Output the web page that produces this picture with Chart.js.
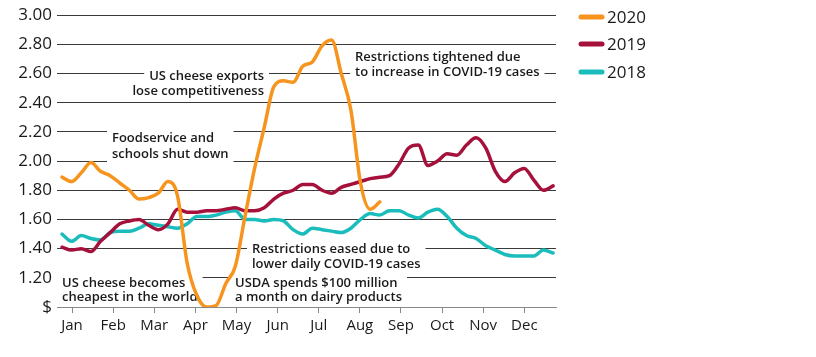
<!DOCTYPE html>
<html>
<head>
<meta charset="utf-8">
<script src="https://cdn.jsdelivr.net/npm/chart.js@4/dist/chart.umd.min.js"></script>
<style>
  html, body { margin: 0; padding: 0; background: #fff; }
  #wrap { width: 816px; height: 357px; position: relative; }
</style>
</head>
<body>
<div id="wrap"><canvas id="c" width="816" height="357"></canvas></div>
<script>
// ---- data (weekly cheese prices, $/lb) ----
const weeks = [1,2,3,4,5,6,7,8,9,10,11,12,13,14,15,16,17,18,19,20,21,22,23,24,25,26,27,28,29,30,31,32,33,34,35,36,37,38,39,40,41,42,43,44,45,46,47,48,49,50,51,52];
const monthLabels = ['Jan','Feb','Mar','Apr','May','Jun','Jul','Aug','Sep','Oct','Nov','Dec'];
const monthTickWeeks = [2.04, 6.31, 10.58, 14.85, 19.12, 23.39, 27.66, 31.93, 36.2, 40.47, 44.74, 49.01];
const seriesNames = ['2020', '2019', '2018'];
const values2020 = [1.89,1.86,1.92,1.99,1.93,1.90,1.85,1.80,1.74,1.75,1.78,1.86,1.76,1.30,1.08,1.00,1.01,1.16,1.28,1.62,1.95,2.23,2.51,2.55,2.54,2.65,2.68,2.79,2.83,2.60,2.35,1.85,1.67,1.72];
const values2019 = [1.41,1.39,1.40,1.38,1.45,1.51,1.57,1.59,1.60,1.56,1.53,1.57,1.67,1.65,1.65,1.66,1.66,1.67,1.68,1.66,1.66,1.68,1.74,1.78,1.80,1.84,1.84,1.80,1.78,1.82,1.84,1.86,1.88,1.89,1.90,1.98,2.09,2.11,1.97,2.00,2.05,2.04,2.11,2.16,2.09,1.93,1.86,1.92,1.95,1.87,1.80,1.83];
const values2018 = [1.50,1.45,1.49,1.47,1.46,1.51,1.52,1.52,1.54,1.57,1.56,1.55,1.54,1.57,1.62,1.62,1.63,1.65,1.66,1.60,1.60,1.59,1.60,1.59,1.53,1.50,1.54,1.53,1.52,1.51,1.54,1.60,1.64,1.63,1.66,1.66,1.63,1.61,1.65,1.67,1.62,1.54,1.49,1.47,1.42,1.39,1.36,1.35,1.35,1.35,1.39,1.37];

const annotations = [
  { lines: ['Foodservice and', 'schools shut down'], x: 112, ys: [138, 154], align: 'left', block: true },
  { lines: ['US cheese exports', 'lose competitiveness'], x: 264, ys: [76, 91], align: 'right', block: false },
  { lines: ['Restrictions tightened due', 'to increase in COVID-19 cases'], x: 355, ys: [57, 72], align: 'left', block: true },
  { lines: ['Restrictions eased due to', 'lower daily COVID-19 cases'], x: 252, ys: [249, 264], align: 'left', block: true },
  { lines: ['US cheese becomes', 'cheapest in the world'], x: 62, ys: [283, 297], align: 'left', block: true },
  { lines: ['USDA spends $100 million', 'a month on dairy products'], x: 235, ys: [283, 297], align: 'left', block: true }
];

const colors = ['#F7941D', '#A6113C', '#1ABCBC'];
const FONT = '"Open Sans", "Noto Sans", sans-serif';

function pts(vals) { return vals.map((v, i) => ({ x: weeks[i], y: v })); }

const annotationPlugin = {
  id: 'notes',
  beforeDatasetsDraw(chart) {
    const ctx = chart.ctx;
    ctx.save();
    ctx.font = '600 13px ' + FONT;
    ctx.textBaseline = 'middle';
    annotations.forEach(a => {
      const widths = a.lines.map(l => ctx.measureText(l).width);
      const padX = 5;
      const rects = a.lines.map((l, i) => {
        const w = widths[i];
        const left = a.align === 'left' ? a.x : a.x - w;
        return { left, right: left + w, top: a.ys[i] - 9, bottom: a.ys[i] + 8 };
      });
      ctx.fillStyle = '#fff';
      if (a.block) {
        const l = Math.min(...rects.map(r => r.left)) - padX;
        const r = Math.max(...rects.map(r => r.right)) + padX;
        const t = rects[0].top, b = rects[rects.length - 1].bottom;
        ctx.fillRect(l, t, r - l, b - t);
      } else {
        rects.forEach(rc => ctx.fillRect(rc.left - padX, rc.top, rc.right - rc.left + 2 * padX, rc.bottom - rc.top));
      }
      ctx.fillStyle = '#1a1a1a';
      ctx.textAlign = a.align;
      a.lines.forEach((l, i) => ctx.fillText(l, a.x, a.ys[i]));
    });
    ctx.restore();
  },
  afterDraw(chart) {
    const ctx = chart.ctx;
    ctx.save();
    ctx.font = '400 17px ' + FONT;
    ctx.textBaseline = 'middle';
    ctx.textAlign = 'left';
    const ys = [17, 44, 72];
    chart.data.datasets.forEach((ds, i) => {
      ctx.strokeStyle = ds.borderColor;
      ctx.lineWidth = 5;
      ctx.lineCap = 'round';
      ctx.beginPath();
      ctx.moveTo(581, ys[i]);
      ctx.lineTo(602, ys[i]);
      ctx.stroke();
      ctx.fillStyle = '#1a1a1a';
      ctx.fillText(ds.label, 607, ys[i] + 1);
    });
    ctx.restore();
  }
};

new Chart(document.getElementById('c'), {
  type: 'line',
  data: {
    datasets: [
      { label: seriesNames[0], data: pts(values2020), borderColor: colors[0] },
      { label: seriesNames[1], data: pts(values2019), borderColor: colors[1] },
      { label: seriesNames[2], data: pts(values2018), borderColor: colors[2] }
    ].map(d => Object.assign(d, {
      borderWidth: 3.5, pointRadius: 0, fill: false,
      cubicInterpolationMode: 'monotone', borderJoinStyle: 'round', borderCapStyle: 'round'
    }))
  },
  options: {
    responsive: false,
    animation: false,
    events: [],
    layout: { padding: { top: 15, right: 260, left: 0, bottom: 0 } },
    plugins: { legend: { display: false }, tooltip: { enabled: false } },
    scales: {
      x: {
        type: 'linear',
        min: 0.48, max: 52.3,
        afterBuildTicks(scale) { scale.ticks = monthTickWeeks.map(v => ({ value: v })); },
        afterFit(scale) { scale.height = 50; },
        ticks: {
          autoSkip: false, maxRotation: 0, padding: 4,
          color: '#1a1a1a',
          font: { family: FONT, size: 15 },
          callback: (v, i) => monthLabels[i]
        },
        grid: { drawOnChartArea: false, drawTicks: true, tickLength: 6, tickColor: '#888', lineWidth: 1 },
        border: { color: '#888', width: 1 }
      },
      y: {
        min: 1, max: 3,
        afterFit(scale) { scale.width = 57; },
        ticks: {
          stepSize: 0.2, padding: 5,
          color: '#1a1a1a',
          font: { family: FONT, size: 17 },
          callback: v => (Math.abs(v - 1) < 1e-6 ? '$' : v.toFixed(2))
        },
        grid: {
          drawTicks: false,
          color: ctx => (Math.abs(ctx.tick.value - 1) < 1e-6 ? '#888' : '#3a3a3a'),
          lineWidth: 1
        },
        border: { display: false }
      }
    }
  },
  plugins: [annotationPlugin]
});
</script>
</body>
</html>
